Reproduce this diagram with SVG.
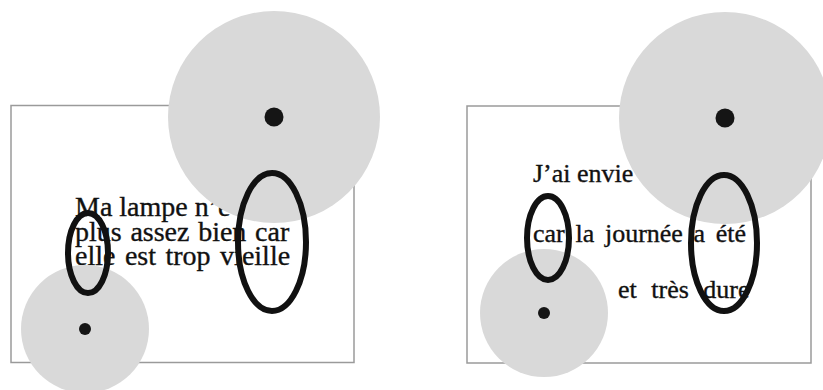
<svg xmlns="http://www.w3.org/2000/svg" width="823" height="390" viewBox="0 0 823 390">
<style>
.frame{fill:#fff;stroke:#9a9a9a;stroke-width:1.5}
.zone{fill:#d9d9d9}
.dot{fill:#151515}
.ring{fill:none;stroke:#111;stroke-width:6}
.txt{font-family:"Liberation Serif","Times New Roman",serif;fill:#111;stroke:#111;stroke-width:0.35}
.l{font-size:28px}
.r{font-size:26px}
</style>
<rect width="823" height="390" fill="#fff"/>
<g id="left-panel">
  <rect id="left-frame" class="frame" x="11" y="105.5" width="343" height="257"/>
  <g id="left-text" class="txt l">
    <text x="75" y="216">Ma lampe n’e</text>
    <text x="75" y="240.5" word-spacing="1.7">plus assez bien car</text>
    <text x="75" y="264.5" word-spacing="2.5">elle est trop vieille</text>
  </g>
  <g id="left-big-zone"><circle class="zone" cx="274" cy="117" r="106"/><circle class="dot" cx="274" cy="117" r="9.5"/></g>
  <g id="left-small-zone"><circle class="zone" cx="85" cy="329" r="64"/><circle class="dot" cx="85" cy="329" r="6"/></g>
  <g id="left-small-ring"><ellipse class="ring" cx="88" cy="253" rx="20" ry="40"/></g>
  <g id="left-big-ring"><ellipse class="ring" cx="272" cy="242" rx="34" ry="69"/></g>
</g>
<g id="right-panel">
  <rect id="right-frame" class="frame" x="467" y="106" width="344" height="257"/>
  <g id="right-text" class="txt r">
    <text x="533" y="182">J’ai envie</text>
    <text x="533" y="241.5" word-spacing="4.2">car la journée a été</text>
    <text x="618" y="298" word-spacing="8">et très dure</text>
  </g>
  <g id="right-big-zone"><circle class="zone" cx="725" cy="118" r="106"/><circle class="dot" cx="725" cy="118" r="9.5"/></g>
  <g id="right-small-zone"><circle class="zone" cx="544" cy="313" r="64"/><circle class="dot" cx="544" cy="313" r="6"/></g>
  <g id="right-small-ring"><ellipse class="ring" cx="548" cy="238" rx="21" ry="42"/></g>
  <g id="right-big-ring"><ellipse class="ring" cx="724" cy="243" rx="33" ry="68"/></g>
</g>
<g id="connectors"/>
</svg>
